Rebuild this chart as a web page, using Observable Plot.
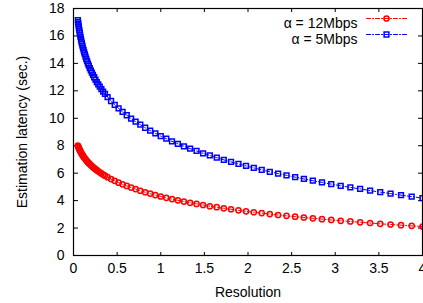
<!DOCTYPE html>
<html>
<head>
<meta charset="utf-8">
<script src="https://cdn.jsdelivr.net/npm/d3@7"></script>
<script src="https://cdn.jsdelivr.net/npm/@observablehq/plot@0.6"></script>
<style>
  body { margin: 0; background: white; }
  #chart { width: 423px; height: 303px; overflow: hidden; }
</style>
</head>
<body>
<div id="chart"></div>
<script>
const resolution = [0.0498, 0.0529, 0.0561, 0.0596, 0.0633, 0.0672, 0.0714, 0.0758, 0.0805, 0.0854,
  0.0907, 0.0963, 0.1023, 0.1086, 0.1153, 0.1225, 0.1300, 0.1381, 0.1466, 0.1557,
  0.1653, 0.1755, 0.1864, 0.1979, 0.2101, 0.2231, 0.2369, 0.2516, 0.2671, 0.2837,
  0.3012, 0.3198, 0.3396, 0.3606,
  0.3906, 0.4307, 0.4727, 0.5166, 0.5625, 0.6104, 0.6602, 0.7119, 0.7656, 0.8213,
  0.8789, 0.9385, 1.0, 1.0635, 1.1289, 1.1963, 1.2656, 1.3369, 1.4102, 1.4854,
  1.5625, 1.6416, 1.7227, 1.8057, 1.8906, 1.9775, 2.0664, 2.1572, 2.25, 2.3447,
  2.4414, 2.54, 2.6406, 2.7432, 2.8477, 2.9541, 3.0625, 3.1729, 3.2852, 3.3994,
  3.5156, 3.6338, 3.7539, 3.876, 4.0];
const latency12 = [8.01, 7.96, 7.90, 7.85, 7.80, 7.74, 7.69, 7.63, 7.57, 7.51,
  7.45, 7.39, 7.33, 7.27, 7.20, 7.14, 7.07, 7.01, 6.94, 6.87,
  6.80, 6.73, 6.66, 6.59, 6.52, 6.44, 6.37, 6.29, 6.22, 6.14,
  6.06, 5.98, 5.90, 5.82,
  5.71, 5.57, 5.44, 5.31, 5.19, 5.07, 4.95, 4.84, 4.72, 4.61,
  4.51, 4.40, 4.30, 4.20, 4.11, 4.02, 3.93, 3.84, 3.76, 3.68,
  3.59, 3.52, 3.44, 3.37, 3.29, 3.22, 3.15, 3.09, 3.02, 2.95,
  2.89, 2.83, 2.77, 2.71, 2.65, 2.59, 2.53, 2.48, 2.42, 2.37,
  2.31, 2.26, 2.21, 2.16, 2.11];
const latency5 = [17.16, 17.01, 16.86, 16.70, 16.55, 16.40, 16.24, 16.08, 15.93, 15.77,
  15.61, 15.45, 15.29, 15.13, 14.97, 14.81, 14.65, 14.49, 14.32, 14.16,
  13.99, 13.83, 13.66, 13.49, 13.32, 13.16, 12.99, 12.82, 12.64, 12.47,
  12.30, 12.13, 11.95, 11.78,
  11.54, 11.26, 10.98, 10.72, 10.46, 10.22, 9.98, 9.75, 9.53, 9.31,
  9.10, 8.90, 8.70, 8.51, 8.32, 8.14, 7.96, 7.79, 7.62, 7.45,
  7.29, 7.13, 6.97, 6.82, 6.67, 6.53, 6.38, 6.24, 6.10, 5.97,
  5.84, 5.71, 5.58, 5.45, 5.33, 5.20, 5.08, 4.96, 4.85, 4.73,
  4.62, 4.51, 4.40, 4.29, 4.18];
const seriesNames = ["α = 12Mbps", "α = 5Mbps"];
const seriesColors = ["#ff0000", "#0000ff"];
const xTicks = [0, 0.5, 1, 1.5, 2, 2.5, 3, 3.5, 4];
const yTicks = [0, 2, 4, 6, 8, 10, 12, 14, 16, 18];
const xLabel = "Resolution";
const yLabel = "Estimation latency (sec.)";

const data12 = resolution.map((x, i) => ({x, y: latency12[i]}));
const data5 = resolution.map((x, i) => ({x, y: latency5[i]}));
const dash = "4,2,1,2";
const hline = {draw(context, l) { context.moveTo(0, 0); context.lineTo(0, -l); }};
const fmt = d => String(d);

const chart = Plot.plot({
  width: 423,
  height: 303,
  marginLeft: 73,
  marginRight: 1,
  marginTop: 8,
  marginBottom: 48,
  style: {fontFamily: "'Liberation Sans', Arial, sans-serif", fontSize: "14px", background: "white", color: "black"},
  x: {domain: [0, 4]},
  y: {domain: [0, 18]},
  marks: [
    // inward ticks on all four sides
    Plot.axisX(xTicks, {anchor: "top", frameAnchor: "bottom", tickSize: 4, text: null, label: null, strokeWidth: 1}),
    Plot.axisX(xTicks, {anchor: "bottom", frameAnchor: "top", tickSize: 4, text: null, label: null, strokeWidth: 1}),
    Plot.axisY(yTicks, {anchor: "right", frameAnchor: "left", tickSize: 4, text: null, label: null, strokeWidth: 1}),
    Plot.axisY(yTicks, {anchor: "left", frameAnchor: "right", tickSize: 4, text: null, label: null, strokeWidth: 1}),
    // tick labels
    Plot.axisX(xTicks, {anchor: "bottom", tickSize: 0, tickPadding: 8, label: null, fontSize: 14, tickFormat: fmt}),
    Plot.axisY(yTicks, {anchor: "left", tickSize: 0, tickPadding: 9, label: null, fontSize: 14, tickFormat: fmt}),
    Plot.text([xLabel], {frameAnchor: "bottom", dy: 37, lineAnchor: "middle", textAnchor: "middle", fontSize: 14}),
    Plot.text([yLabel], {frameAnchor: "left", dx: -51, rotate: -90, textAnchor: "middle", lineAnchor: "middle", fontSize: 14}),
    // series
    Plot.line(data5, {x: "x", y: "y", stroke: seriesColors[1], strokeWidth: 1, strokeDasharray: dash}),
    Plot.dot(data5, {x: "x", y: "y", symbol: "square", r: 2.7, stroke: seriesColors[1], strokeWidth: 1.5, fill: "none"}),
    Plot.line(data12, {x: "x", y: "y", stroke: seriesColors[0], strokeWidth: 1, strokeDasharray: dash}),
    Plot.dot(data12, {x: "x", y: "y", symbol: "circle", r: 2.6, stroke: seriesColors[0], strokeWidth: 1.5, fill: "none"}),
    // legend
    Plot.text([seriesNames[0]], {frameAnchor: "top-right", dx: -65, dy: 10, textAnchor: "end", fontSize: 14}),
    Plot.text([seriesNames[1]], {frameAnchor: "top-right", dx: -65, dy: 26, textAnchor: "end", fontSize: 14}),
    Plot.vector([0], {frameAnchor: "top-right", dx: -56, dy: 10, length: 41, rotate: 90, anchor: "start", shape: hline, stroke: seriesColors[0], strokeWidth: 1, strokeDasharray: dash}),
    Plot.vector([0], {frameAnchor: "top-right", dx: -56, dy: 26, length: 41, rotate: 90, anchor: "start", shape: hline, stroke: seriesColors[1], strokeWidth: 1, strokeDasharray: dash}),
    Plot.dot([0], {frameAnchor: "top-right", dx: -36, dy: 10, symbol: "circle", r: 2.6, stroke: seriesColors[0], strokeWidth: 1.5, fill: "none"}),
    Plot.dot([0], {frameAnchor: "top-right", dx: -36, dy: 26, symbol: "square", r: 2.7, stroke: seriesColors[1], strokeWidth: 1.5, fill: "none"}),
    Plot.frame({stroke: "black", strokeWidth: 1.2})
  ]
});
document.getElementById("chart").appendChild(chart);
</script>
</body>
</html>
